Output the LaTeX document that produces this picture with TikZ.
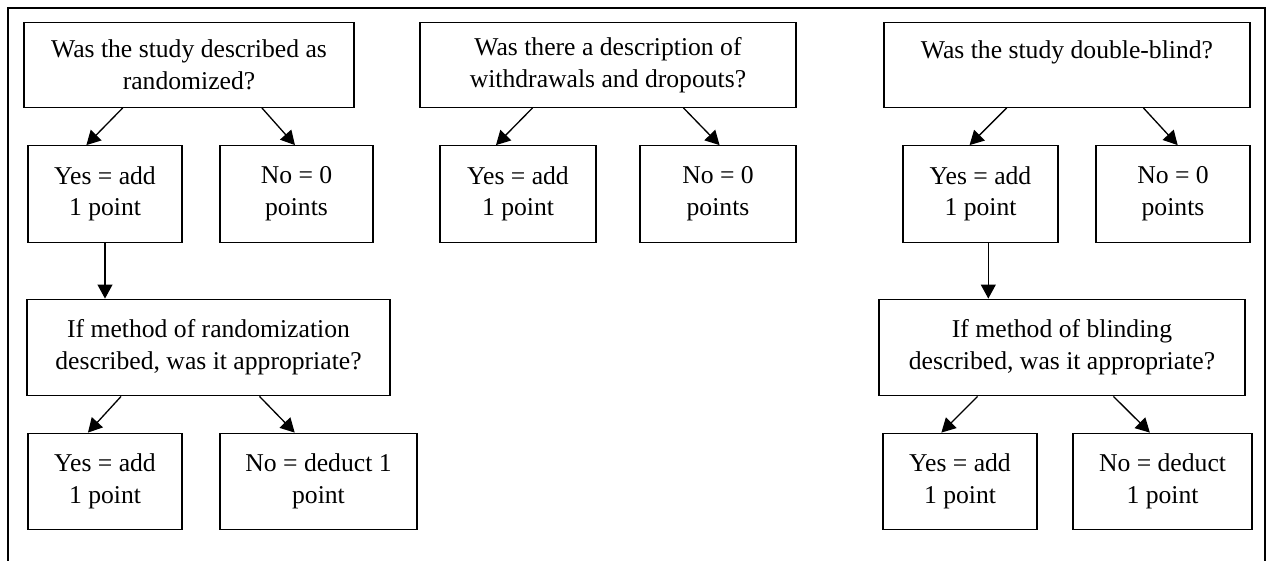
\documentclass[tikz,border=0pt]{standalone}
\usepackage{fontspec}
\setmainfont{Liberation Serif}
\usetikzlibrary{arrows.meta,calc,positioning}
\tikzset{
  qbox/.style={draw,line width=0.75pt,align=center,inner sep=0pt,font=\fontsize{14.6}{18}\selectfont},
  topbox/.style={qbox,minimum height=1.69cm},
  ansbox/.style={qbox,minimum height=1.93cm},
  flow/.style={line width=0.75pt,-{Triangle[length=8pt,width=8.5pt]}},
  frameline/.style={line width=1.5pt}
}
\begin{document}
\begin{tikzpicture}[x=0.02cm,y=-0.02cm]
  \useasboundingbox (0,0) rectangle (1272,561);
  \draw[frameline] (8,561) -- (8,8) -- (1265,8) -- (1265,561);
  % first row: the three questions
  \node[topbox,minimum width=6.6cm] (rand) at (189,65) {Was the study described as\\randomized?};
  \node[topbox,minimum width=7.52cm] (drop) at (608,65) {Was there a description of\\withdrawals and dropouts?};
  \node[topbox,minimum width=7.32cm] (blind) at (1067,65) {Was the study double-blind?\\~};
  % second row
  \node[ansbox,minimum width=3.08cm] (randyes) at (105,194) {Yes = add\\1 point};
  \node[ansbox,minimum width=3.06cm] (randno) at (296.5,194) {No = 0\\points};
  \node[ansbox,minimum width=3.12cm] (dropyes) at (518,194) {Yes = add\\1 point};
  \node[ansbox,minimum width=3.12cm] (dropno) at (718,194) {No = 0\\points};
  \node[ansbox,minimum width=3.1cm] (blindyes) at (980.5,194) {Yes = add\\1 point};
  \node[ansbox,minimum width=3.08cm] (blindno) at (1173,194) {No = 0\\points};
  % method questions
  \node[ansbox,minimum width=7.26cm] (rmeth) at (208.5,347.5) {If method of randomization\\described, was it appropriate?};
  \node[ansbox,minimum width=7.32cm] (bmeth) at (1062,347.5) {If method of blinding\\described, was it appropriate?};
  % last row
  \node[ansbox,minimum width=3.08cm] (rmethyes) at (105,481.5) {Yes = add\\1 point};
  \node[ansbox,minimum width=3.94cm] (rmethno) at (318.5,481.5) {No = deduct 1\\point};
  \node[ansbox,minimum width=3.08cm] (bmethyes) at (960,481.5) {Yes = add\\1 point};
  \node[ansbox,minimum width=3.58cm] (bmethno) at (1162.5,481.5) {No = deduct\\1 point};
  % arrows
  \draw[flow] ($(rand.south west)!.30!(rand.south east)$) -- ($(randyes.north west)!.38!(randyes.north east)$);
  \draw[flow] ($(rand.south west)!.72!(rand.south east)$) -- ($(randno.north west)!.49!(randno.north east)$);
  \draw[flow] ($(drop.south west)!.30!(drop.south east)$) -- ($(dropyes.north west)!.36!(dropyes.north east)$);
  \draw[flow] ($(drop.south west)!.70!(drop.south east)$) -- ($(dropno.north west)!.51!(dropno.north east)$);
  \draw[flow] ($(blind.south west)!.336!(blind.south east)$) -- ($(blindyes.north west)!.43!(blindyes.north east)$);
  \draw[flow] ($(blind.south west)!.708!(blind.south east)$) -- ($(blindno.north west)!.53!(blindno.north east)$);
  \draw[flow] (randyes.south) -- (randyes.south |- rmeth.north);
  \coordinate (bdown) at ($(blindyes.south west)!.55!(blindyes.south east)$);
  \draw[flow] (bdown) -- (bdown |- bmeth.north);
  \draw[flow] ($(rmeth.south west)!.26!(rmeth.south east)$) -- ($(rmethyes.north west)!.39!(rmethyes.north east)$);
  \draw[flow] ($(rmeth.south west)!.64!(rmeth.south east)$) -- ($(rmethno.north west)!.38!(rmethno.north east)$);
  \draw[flow] ($(bmeth.south west)!.27!(bmeth.south east)$) -- ($(bmethyes.north west)!.38!(bmethyes.north east)$);
  \draw[flow] ($(bmeth.south west)!.64!(bmeth.south east)$) -- ($(bmethno.north west)!.43!(bmethno.north east)$);
\end{tikzpicture}
\end{document}
